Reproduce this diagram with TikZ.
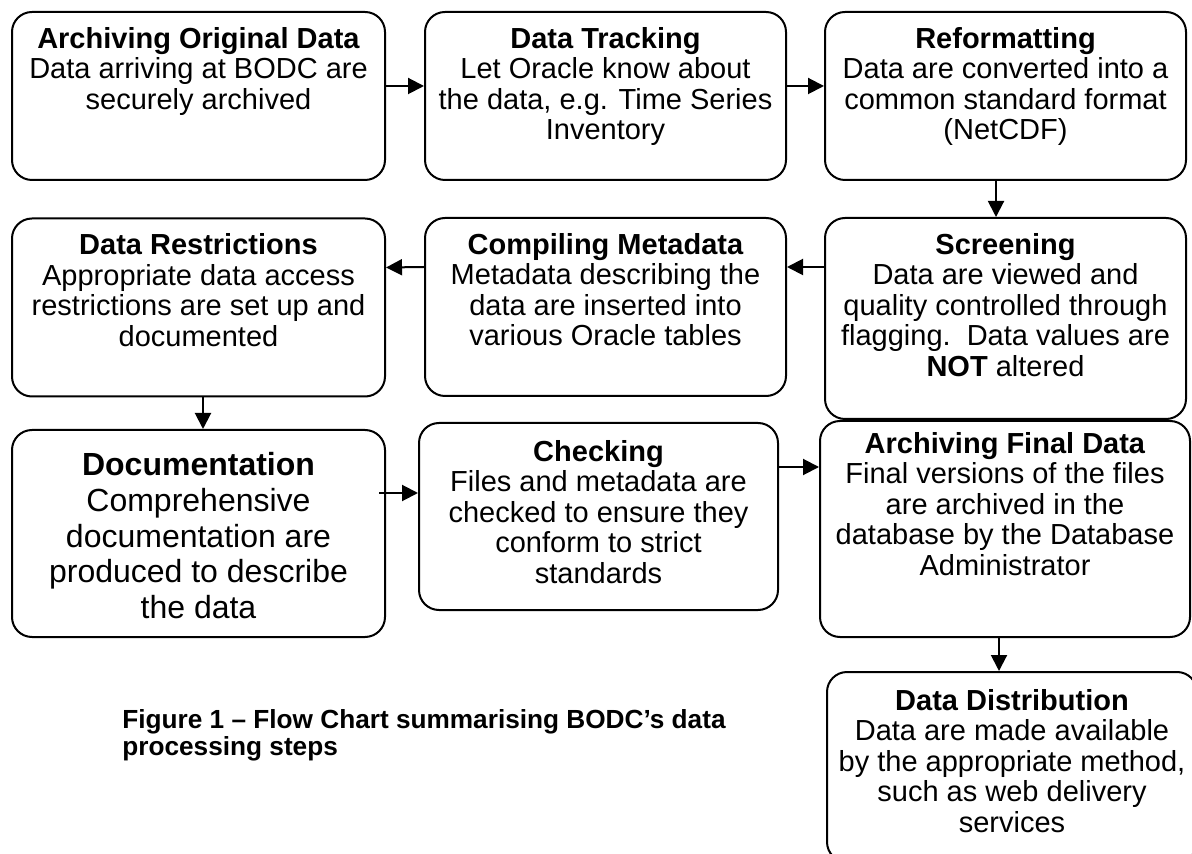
\documentclass[tikz,border=0pt]{standalone}
\usepackage{fontspec}
\setmainfont{Liberation Sans}
\usetikzlibrary{arrows.meta}
\usetikzlibrary{positioning}

\tikzset{
    stepbox/.style={draw, line width=1pt, rounded corners=10pt, inner sep=0pt},
    steptext/.style={align=center, inner sep=0pt, font=\fontsize{14.5pt}{15.2pt}\selectfont},
    bigtext/.style={align=center, inner sep=0pt, font=\fontsize{16pt}{17.9pt}\selectfont},
    captext/.style={align=left, inner sep=0pt, font=\fontsize{13.1pt}{13.6pt}\selectfont\bfseries},
    flow/.style={line width=1pt, -{Triangle[length=8pt,width=8pt]}},
}

\begin{document}
\begin{tikzpicture}[x=0.5pt, y=-0.5pt]
    \fill[white] (0,0) rectangle (1192,854);
    \useasboundingbox (0,0) rectangle (1192,854);
    % first row
    \node[stepbox, minimum width=186.5pt, minimum height=84pt] (arch) at (198.5,96) {};
    \node[steptext, below=8pt of arch.north] (archtxt) {\textbf{Archiving Original Data}\\Data arriving at BODC are\\securely archived};
    \node[stepbox, minimum width=180.5pt, minimum height=84pt] (track) at (605.5,96) {};
    \node[steptext, below=8pt of track.north] (tracktxt) {\textbf{Data Tracking}\\Let Oracle know about\\the data, e.g. Time Series\\Inventory};
    \node[stepbox, minimum width=180.5pt, minimum height=84pt] (reform) at (1005.5,96) {};
    \node[steptext, below=8pt of reform.north] (reformtxt) {\textbf{Reformatting}\\Data are converted into a\\common standard format\\(NetCDF)};
    % second row
    \node[stepbox, minimum width=186.5pt, minimum height=89pt] (restr) at (198.5,307.5) {};
    \node[steptext, below=8pt of restr.north] (restrtxt) {\textbf{Data Restrictions}\\Appropriate data access\\restrictions are set up and\\documented};
    \node[stepbox, minimum width=180.5pt, minimum height=89pt] (meta) at (605.5,307) {};
    \node[steptext, below=8pt of meta.north] (metatxt) {\textbf{Compiling Metadata}\\Metadata describing the\\data are inserted into\\various Oracle tables};
    \node[stepbox, minimum width=180.5pt, minimum height=100.5pt] (screen) at (1005.5,318.5) {};
    \node[steptext, below=8pt of screen.north] (screentxt) {\textbf{Screening}\\Data are viewed and\\quality controlled through\\flagging.\ \ Data values are\\\textbf{NOT} altered};
    % third row
    \node[stepbox, minimum width=186.5pt, minimum height=103.5pt] (doc) at (198.5,533.5) {};
    \node[bigtext, below=11.5pt of doc.north] (doctxt) {\textbf{Documentation}\\Comprehensive\\documentation are\\produced to describe\\the data};
    \node[stepbox, minimum width=179.5pt, minimum height=93.5pt] (check) at (598.5,516.5) {};
    \node[steptext, below=9pt of check.north] (checktxt) {\textbf{Checking}\\Files and metadata are\\checked to ensure they\\conform to strict\\standards};
    \node[stepbox, minimum width=185pt, minimum height=108pt] (final) at (1005,529) {};
    \node[steptext, below=6pt of final.north] (finaltxt) {\textbf{Archiving Final Data}\\Final versions of the files\\are archived in the\\database by the Database\\Administrator};
    % last step (runs off the page)
    \node[stepbox, minimum width=185pt, minimum height=95pt] (dist) at (1012,767) {};
    \node[steptext, below=9pt of dist.north] (disttxt) {\textbf{Data Distribution}\\Data are made available\\by the appropriate method,\\such as web delivery\\services};
    % arrows
    \draw[flow] ([yshift=5pt]arch.east) -- ([yshift=5pt]track.west);
    \draw[flow] ([yshift=5pt]track.east) -- ([yshift=5pt]reform.west);
    \draw[flow] ([xshift=-4.75pt]reform.south) -- ([xshift=-4.75pt]screen.north);
    \draw[flow] ([yshift=25.75pt]screen.west) -- ([yshift=20pt]meta.east);
    \draw[flow] ([yshift=20pt]meta.west) -- ([yshift=20pt]restr.east);
    \draw[flow] ([xshift=2.25pt]restr.south) -- ([xshift=2.25pt]doc.north);
    \draw[flow] ([xshift=-3.5pt,yshift=20.25pt]doc.east) -- ([yshift=11.75pt]check.west);
    \draw[flow] ([yshift=24.75pt]check.east) -- ([yshift=31pt]final.west);
    \draw[flow] ([xshift=-3pt]final.south) -- ([xshift=-6.5pt]dist.north);
    % caption
    \node[captext, anchor=north west] (caption) at (122,709) {Figure 1 – Flow Chart summarising BODC’s data\\processing steps};
\end{tikzpicture}
\end{document}
